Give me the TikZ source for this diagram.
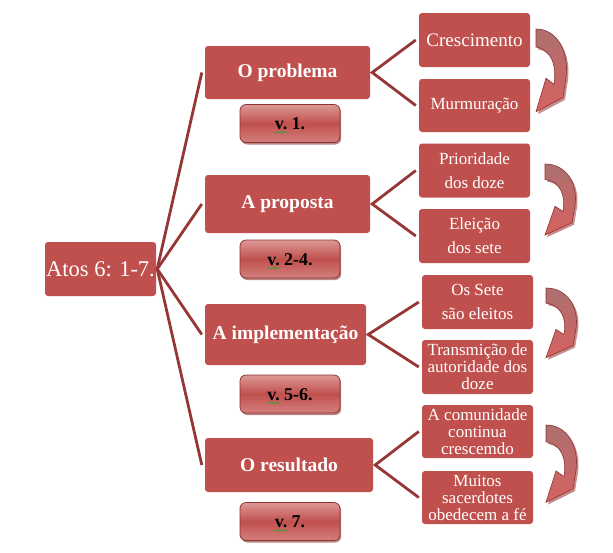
\documentclass[tikz,border=0pt]{standalone}
\usepackage{fontspec}
\setmainfont{Liberation Serif}
\usetikzlibrary{shadows,decorations.pathmorphing}
\definecolor{boxred}{RGB}{192,80,77}
\definecolor{linered}{RGB}{150,55,53}
\definecolor{vtop}{RGB}{220,152,150}
\definecolor{vbot}{RGB}{212,128,126}
\definecolor{vborder}{RGB}{140,52,50}
\definecolor{armauve}{RGB}{172,112,112}
\definecolor{arred}{RGB}{214,98,96}
\definecolor{squig}{RGB}{40,170,40}
\newcommand\arrowpath{(0,0) .. controls (22,0) and (33,20) .. (30,40) .. controls (29,48) .. (27,57) -- (0,69) -- (10,41) -- (18,46) .. controls (21,30) and (15,17) .. (0,15) -- cycle}
\newcommand\bentarrow[3]{%
  \begin{scope}[shift={(#1,#2)}, yscale=#3]
    \fill[black!50!red, opacity=.45, shift={(2,2)}] \arrowpath;
    \shade[top color=armauve, bottom color=arred, draw=vborder, line width=.6pt] \arrowpath;
  \end{scope}}
\begin{document}
\begin{tikzpicture}[x=1pt,y=-1pt,
  rootbox/.style={fill=boxred, rounded corners=3pt, text=white, inner sep=0pt,
    minimum width=111pt, minimum height=54pt, font=\fontsize{22.5}{26}\selectfont},
  lone/.style={fill=boxred, rounded corners=3pt, text=white, inner sep=0pt,
    font=\bfseries\fontsize{19.5}{22}\selectfont},
  ltwo/.style={fill=boxred, rounded corners=3pt, text=white, inner sep=0pt,
    minimum width=111pt, minimum height=54pt, align=center},
  wide/.style={font=\fontsize{17}{24}\selectfont},
  tight/.style={font=\fontsize{17}{17}\selectfont},
  vbox/.style={rounded corners=6pt, top color=vtop, bottom color=vbot, middle color=boxred,
    draw=vborder, line width=.8pt, minimum width=100pt, minimum height=38pt, inner sep=0pt,
    drop shadow={shadow xshift=1.2pt, shadow yshift=-2pt, fill=vborder, opacity=.6}},
  vtext/.style={font=\bfseries\fontsize{18}{20}\selectfont, text=black, inner sep=0pt, anchor=base},
  squiggle/.style={draw=squig, line width=.5pt, decorate,
    decoration={snake, amplitude=.7pt, segment length=2.4pt}},
  conn/.style={draw=linered, line width=2.8pt}
]
\useasboundingbox (0,0) rectangle (613,552);

% root
\node[rootbox] (root) at (100.5,269) {Atos 6: 1-7.};

% level one
\node[lone, minimum width=165pt, minimum height=53pt] (prob) at (287.5,72.5) {O problema};
\node[lone, minimum width=165pt, minimum height=58pt] (prop) at (287.5,204) {A proposta};
\node[lone, minimum width=161pt, minimum height=61pt] (impl) at (285.5,334.5) {A implementação};
\node[lone, minimum width=168pt, minimum height=54pt] (res) at (289,465) {O resultado};

% verse boxes
\foreach \n/\y/\t in {v1/123.5/1., v2/259/2-4., v3/394/5-6., v4/521.5/7.}{
  \node[vbox] (\n) at (290,\y) {};
  \node[vtext] (\n t) at ([yshift=-6pt]\n.center) {v.\ \t};
  \draw[squiggle] ([yshift=-3pt]\n t.base west) -- ++(13,0);
}

% level two
\node[ltwo, font=\fontsize{19}{22}\selectfont] (cres) at (474.5,40) {Crescimento};
\node[ltwo, font=\fontsize{17}{20}\selectfont, minimum height=53pt] (murm) at (474.5,105.5) {Murmuração};
\node[ltwo, wide] (prio) at (474.5,170.5) {Prioridade\\dos doze};
\node[ltwo, wide] (elei) at (474.5,236) {Eleição\\dos sete};
\node[ltwo, wide] (sete) at (477.5,302) {Os Sete\\são eleitos};
\node[ltwo, tight] (trans) at (477.5,367) {Transmição de\\autoridade dos\\doze};
\node[ltwo, tight, minimum height=53pt] (com) at (477.5,431.5) {A comunidade\\continua\\crescemdo};
\node[ltwo, tight, minimum height=53pt] (mui) at (477.5,497.5) {Muitos\\sacerdotes\\obedecem a fé};

% connectors from root
\foreach \t in {prob,prop,impl,res}
  \draw[conn] ([xshift=1pt]root.east) -- ([xshift=-3pt]\t.west);

% connectors to level two
\draw[conn] ([xshift=-3pt]cres.west) -- ([xshift=2pt]prob.east) -- ([xshift=-3pt]murm.west);
\draw[conn] ([xshift=-3pt]prio.west) -- ([xshift=2pt]prop.east) -- ([xshift=-3pt]elei.west);
\draw[conn] ([xshift=-3pt]sete.west) -- ([xshift=2pt]impl.east) -- ([xshift=-3pt]trans.west);
\draw[conn] ([xshift=-3pt]com.west) -- ([xshift=2pt]res.east) -- ([xshift=-3pt]mui.west);

% curved arrows
\bentarrow{536}{29}{1.2}
\bentarrow{545}{164}{1.03}
\bentarrow{546}{288}{1.01}
\bentarrow{546}{425}{1.12}
\end{tikzpicture}
\end{document}
